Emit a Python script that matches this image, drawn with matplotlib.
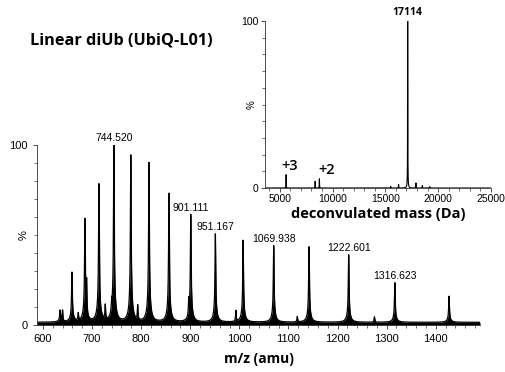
import numpy as np
import matplotlib.pyplot as plt
from matplotlib.ticker import MultipleLocator

# ESI charge-state envelope (m/z, relative intensity %)
mz_peaks = [635, 659.2, 685.6, 714.1, 744.52, 779.0, 816.0, 856.7, 901.111,
            951.167, 1007.7, 1069.938, 1141.9, 1222.601, 1316.623, 1427.0]
mz_heights = [8, 29, 58, 78, 100, 94, 90, 73, 61, 50.5, 47, 44, 43.5, 39, 23.5, 16]
# minor adduct / impurity peaks
mz_minor = [640, 672, 689, 727, 740, 793, 897, 993, 1118, 1275]
mz_minor_h = [6, 4, 17, 8, 5, 8, 8, 6, 3, 3]
labelled = ["744.520", "901.111", "951.167", "1069.938", "1222.601", "1316.623"]

# deconvoluted spectrum (Da, %)
mass_peaks = [5600, 8350, 8750, 15500, 16250, 17114, 17900, 18500, 19200]
mass_heights = [8, 4, 5.5, 1, 2, 100, 3, 1.5, 0.8]

BASE = 1.5


def profile(x, centers, heights, w):
    y = np.zeros_like(x)
    for c, h in zip(centers, heights):
        y += h / (1 + ((x - c) / w) ** 2)
    return y


fig = plt.figure(figsize=(5.06, 3.72), dpi=100)
plt.rcParams['font.family'] = ['Liberation Sans', 'DejaVu Sans']
bold_font = ['Open Sans', 'DejaVu Sans']

# main spectrum: sharp peak on a broader adduct skirt
ax = fig.add_axes([0.0731, 0.1263, 0.8755, 0.4839])
x = np.linspace(588, 1490, 12000)
skirt = [h * 0.12 for h in mz_heights]
sharp = [h - s - BASE for h, s in zip(mz_heights, skirt)]
y = profile(x, mz_peaks, sharp, 0.9) + profile(x, mz_peaks, skirt, 4.0)
y += profile(x, mz_minor, mz_minor_h, 0.8) + BASE
ax.fill_between(x, 0, y, color='black', lw=0)
ax.plot(x, y, color='black', lw=0.9)

for c, h in zip(mz_peaks, mz_heights):
    txt = "%.3f" % c
    if txt in labelled:
        ax.text(c, h + 1, txt, ha='center', va='bottom', fontsize=7.5)

ax.set_xlim(588, 1490)
ax.set_ylim(0, 100)
ax.set_xticks([600, 700, 800, 900, 1000, 1100, 1200, 1300, 1400])
ax.xaxis.set_minor_locator(MultipleLocator(20))
ax.set_yticks([0, 100])
ax.yaxis.set_minor_locator(MultipleLocator(10))
ax.tick_params(labelsize=8, length=3, width=0.6, colors='#333333', labelcolor='black')
ax.tick_params(which='minor', length=2, width=0.5, colors='#333333')
for s in ['top', 'right']:
    ax.spines[s].set_visible(False)
for s in ['left', 'bottom']:
    ax.spines[s].set_linewidth(0.6)
    ax.spines[s].set_color('#333333')
ax.text(-0.03, 0.5, "%", transform=ax.transAxes, rotation=90,
        ha='center', va='center', fontsize=8)
ax.set_xlabel("m/z (amu)", fontsize=10, fontweight='bold',
              family=bold_font, labelpad=6)

# deconvoluted inset
ins = fig.add_axes([0.5237, 0.4946, 0.4466, 0.4489])
m = np.linspace(3600, 25000, 20000)
my = profile(m, mass_peaks, mass_heights, 12)
ins.plot(m, my, color='black', lw=0.8)
ins.text(17114, 102, "17114", ha='center', va='bottom', fontsize=7.5,
         fontweight='bold', family=bold_font)
ins.text(5950, 9, "+3", ha='center', va='bottom', fontsize=10.5,
         fontweight='semibold', family=bold_font)
ins.text(9450, 6.5, "+2", ha='center', va='bottom', fontsize=10.5,
         fontweight='semibold', family=bold_font)
ins.set_xlim(3600, 25000)
ins.set_ylim(0, 100)
ins.set_xticks([5000, 10000, 15000, 20000, 25000])
ins.xaxis.set_minor_locator(MultipleLocator(1000))
ins.set_yticks([0, 100])
ins.yaxis.set_minor_locator(MultipleLocator(10))
ins.tick_params(labelsize=7.5, length=3, width=0.6, colors='#333333', labelcolor='black', pad=1.5)
ins.tick_params(which='minor', length=2, width=0.5, colors='#333333')
for s in ['top', 'right']:
    ins.spines[s].set_visible(False)
for s in ['left', 'bottom']:
    ins.spines[s].set_linewidth(0.6)
    ins.spines[s].set_color('#333333')
ins.text(-0.06, 0.5, "%", transform=ins.transAxes, rotation=90,
         ha='center', va='center', fontsize=7)
ins.set_xlabel("deconvulated mass (Da)", fontsize=10.5, fontweight='bold',
               family=bold_font, labelpad=2)

fig.text(0.059, 0.892, "Linear diUb (UbiQ-L01)", fontsize=11.7, fontweight='bold',
         family=bold_font, va='center')

fig.savefig("out.png", dpi=100)
